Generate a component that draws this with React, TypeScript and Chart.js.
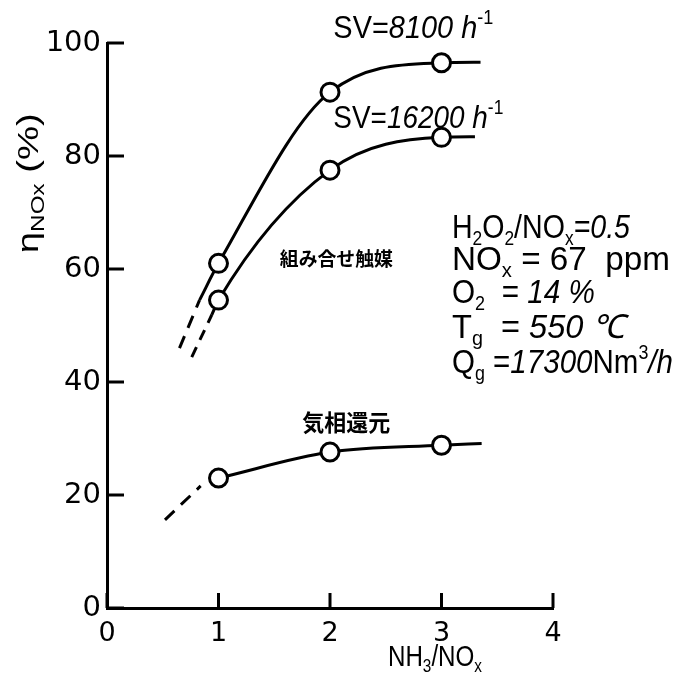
import React, { useEffect, useRef } from "react";
import { Chart, registerables } from "chart.js";

Chart.register(...registerables);

// ---- data ----
const xTickValues = [0, 1, 2, 3, 4];
const yTickValues = [0, 20, 40, 60, 80, 100];
const nh3Ratio = [1, 2, 3];
const sv8100 = [61, 91.3, 96.5];
const sv16200 = [54.5, 77.5, 83.3];
const gasPhase = [23, 27.6, 28.8];

// curve extensions (solid start/end and dashed extrapolation), no markers
const sv8100Solid = [[0.83, 54.5], [3.35, 96.6]];
const sv8100Dash = [[0.65, 46], [0.83, 54.5]];
const sv16200Solid = [[0.94, 51.9], [3.3, 83.4]];
const sv16200Dash = [[0.76, 44.4], [0.94, 51.9]];
const gasSolid = [[1, 23], [3.36, 29.1]];
const gasDash = [[0.52, 15.6], [0.84, 21.6]];

type Seg = { t: string; it?: boolean; sub?: boolean; sup?: boolean };

// annotations (position in data units, fit width in px)
const annotations: { segs: Seg[]; x: number; y: number; size: number; fit: number; family: string; weight: string }[] = [
  { segs: [{ t: "SV=" }, { t: "8100", it: true }, { t: " " }, { t: "h", it: true }, { t: "-1", sup: true }], x: 2.03, y: 100.9, size: 32, fit: 160, family: "Liberation Sans", weight: "normal" },
  { segs: [{ t: "SV=" }, { t: "16200", it: true }, { t: " " }, { t: "h", it: true }, { t: "-1", sup: true }], x: 2.03, y: 85.0, size: 32, fit: 170, family: "Liberation Sans", weight: "normal" },
  { segs: [{ t: "組み合せ触媒" }], x: 1.55, y: 60.5, size: 19, fit: 113, family: "Noto Sans CJK JP", weight: "bold" },
  { segs: [{ t: "気相還元" }], x: 1.75, y: 31.3, size: 23, fit: 88, family: "Noto Sans CJK JP", weight: "bold" },
  { segs: [{ t: "H" }, { t: "2", sub: true }, { t: "O" }, { t: "2", sub: true }, { t: "/NO" }, { t: "x", sub: true }, { t: "=0.5", it: true }], x: 3.094, y: 65.5, size: 33, fit: 178, family: "Liberation Sans", weight: "normal" },
  { segs: [{ t: "NO" }, { t: "x", sub: true }, { t: " = 67  ppm" }], x: 3.094, y: 59.8, size: 33, fit: 218, family: "Liberation Sans", weight: "normal" },
  { segs: [{ t: "O" }, { t: "2", sub: true }, { t: "  = " }, { t: "14 %", it: true }], x: 3.094, y: 53.98, size: 33, fit: 143, family: "Liberation Sans", weight: "normal" },
  { segs: [{ t: "T" }, { t: "g", sub: true }, { t: "  = " }, { t: "550 ℃", it: true }], x: 3.094, y: 47.8, size: 33, fit: 173, family: "Liberation Sans", weight: "normal" },
  { segs: [{ t: "Q" }, { t: "g", sub: true }, { t: " =" }, { t: "17300", it: true }, { t: "Nm" }, { t: "3", sup: true }, { t: "/h", it: true }], x: 3.094, y: 41.6, size: 33, fit: 221, family: "Liberation Sans", weight: "normal" },
];

function drawRich(ctx: CanvasRenderingContext2D, segs: Seg[], x: number, y: number, size: number, family: string, weight: string, fit?: number) {
  const fontFor = (s: Seg) => `${s.it ? "italic " : ""}${weight} ${s.sub || s.sup ? Math.round(size * 0.62) : size}px "${family}"`;
  const widths: number[] = [];
  let total = 0;
  for (const s of segs) {
    ctx.font = fontFor(s);
    const w = ctx.measureText(s.t).width;
    widths.push(w);
    total += w;
  }
  ctx.save();
  ctx.translate(x, y);
  if (fit) ctx.scale(fit / total, 1);
  ctx.fillStyle = "#000";
  ctx.textBaseline = "alphabetic";
  ctx.textAlign = "left";
  let cx = 0;
  segs.forEach((s, i) => {
    ctx.font = fontFor(s);
    const dy = s.sub ? size * 0.2 : s.sup ? -size * 0.42 : 0;
    ctx.fillText(s.t, cx, dy);
    cx += widths[i];
  });
  ctx.restore();
}

const toPts = (arr: number[][]) => arr.map(([x, y]) => ({ x, y }));
const solidLine = (ext: number[][], ys: number[]) => {
  const pts = nh3Ratio.map((x, i) => ({ x, y: ys[i] }));
  const start = { x: ext[0][0], y: ext[0][1] };
  const end = { x: ext[1][0], y: ext[1][1] };
  const out = start.x < pts[0].x ? [start, ...pts] : pts;
  return [...out, end];
};

const decorPlugin = {
  id: "decor",
  afterDraw(chart: any) {
    const ctx: CanvasRenderingContext2D = chart.ctx;
    const xs = chart.scales.x;
    const ys = chart.scales.y;
    const { left, bottom } = chart.chartArea;
    ctx.save();
    ctx.strokeStyle = "#000";
    ctx.lineWidth = 3;
    ctx.lineCap = "butt";
    for (const v of yTickValues) {
      const py = ys.getPixelForValue(v);
      ctx.beginPath();
      ctx.moveTo(left, py);
      ctx.lineTo(left + 17, py);
      ctx.stroke();
    }
    for (const v of xTickValues) {
      const px = xs.getPixelForValue(v);
      ctx.beginPath();
      ctx.moveTo(px, bottom);
      ctx.lineTo(px, bottom - 15);
      ctx.stroke();
    }
    for (const a of annotations) {
      drawRich(ctx, a.segs, xs.getPixelForValue(a.x), ys.getPixelForValue(a.y), a.size, a.family, a.weight, a.fit);
    }
    // y-axis title (rotated)
    ctx.save();
    ctx.translate(xs.getPixelForValue(-0.62), ys.getPixelForValue(62.8));
    ctx.rotate(-Math.PI / 2);
    drawRich(ctx, [{ t: "η" }, { t: "NOx", sub: true }, { t: " (%)" }], 0, 0, 30, "Liberation Sans", "normal", 140);
    ctx.restore();
    // x-axis title
    drawRich(ctx, [{ t: "NH" }, { t: "3", sub: true }, { t: "/NO" }, { t: "x", sub: true }], xs.getPixelForValue(2.52), ys.getPixelForValue(-10.3), 30, "Liberation Sans", "normal", 94);
    ctx.restore();
  },
};

export default function App() {
  const ref = useRef<HTMLCanvasElement>(null);
  useEffect(() => {
    if (!ref.current) return;
    const lineBase = { borderColor: "#000", borderWidth: 3, pointRadius: 0, fill: false, showLine: true, order: 2 };
    const markerBase = { borderColor: "#000", backgroundColor: "#fff", borderWidth: 3, pointRadius: 9, pointBorderWidth: 3, showLine: false, order: 0 };
    const chart = new Chart(ref.current, {
      type: "scatter",
      data: {
        datasets: [
          { ...markerBase, label: "SV=8100", data: nh3Ratio.map((x, i) => ({ x, y: sv8100[i] })) },
          { ...markerBase, label: "SV=16200", data: nh3Ratio.map((x, i) => ({ x, y: sv16200[i] })) },
          { ...markerBase, label: "気相還元", data: nh3Ratio.map((x, i) => ({ x, y: gasPhase[i] })) },
          { ...lineBase, label: "l1", data: solidLine(sv8100Solid, sv8100), cubicInterpolationMode: "monotone" },
          { ...lineBase, label: "l2", data: solidLine(sv16200Solid, sv16200), cubicInterpolationMode: "monotone" },
          { ...lineBase, label: "l3", data: solidLine(gasSolid, gasPhase), cubicInterpolationMode: "monotone" },
          { ...lineBase, label: "d1", data: toPts(sv8100Dash), borderDash: [13, 9] },
          { ...lineBase, label: "d2", data: toPts(sv16200Dash), borderDash: [11, 8] },
          { ...lineBase, label: "d3", data: toPts(gasDash), borderDash: [13, 9] },
        ] as any,
      },
      options: {
        responsive: false,
        animation: false,
        devicePixelRatio: 1,
        layout: { padding: { top: 43, right: 121, bottom: 0, left: 0 } },
        plugins: { legend: { display: false }, tooltip: { enabled: false } },
        scales: {
          x: {
            type: "linear",
            min: 0,
            max: 4,
            afterFit: (s: any) => { s.height = 67; },
            afterBuildTicks: (s: any) => { s.ticks = xTickValues.map((v) => ({ value: v })); },
            grid: { display: true, drawOnChartArea: false, drawTicks: false },
            border: { display: true, color: "#000", width: 3 },
            ticks: { color: "#000", padding: 10, font: { family: "DejaVu Sans", size: 27 } },
          },
          y: {
            type: "linear",
            min: 0,
            max: 100,
            afterFit: (s: any) => { s.width = 107; },
            afterBuildTicks: (s: any) => { s.ticks = yTickValues.map((v) => ({ value: v })); },
            grid: { display: true, drawOnChartArea: false, drawTicks: false },
            border: { display: true, color: "#000", width: 3 },
            ticks: { color: "#000", padding: 6, font: { family: "DejaVu Sans", size: 29 } },
          },
        },
      },
      plugins: [decorPlugin],
    });
    return () => chart.destroy();
  }, []);
  return (
    <div style={{ position: "absolute", left: 0, top: 0, width: 674, height: 675, background: "#fff" }}>
      <canvas ref={ref} width={674} height={675} style={{ width: 674, height: 675 }} />
    </div>
  );
}
